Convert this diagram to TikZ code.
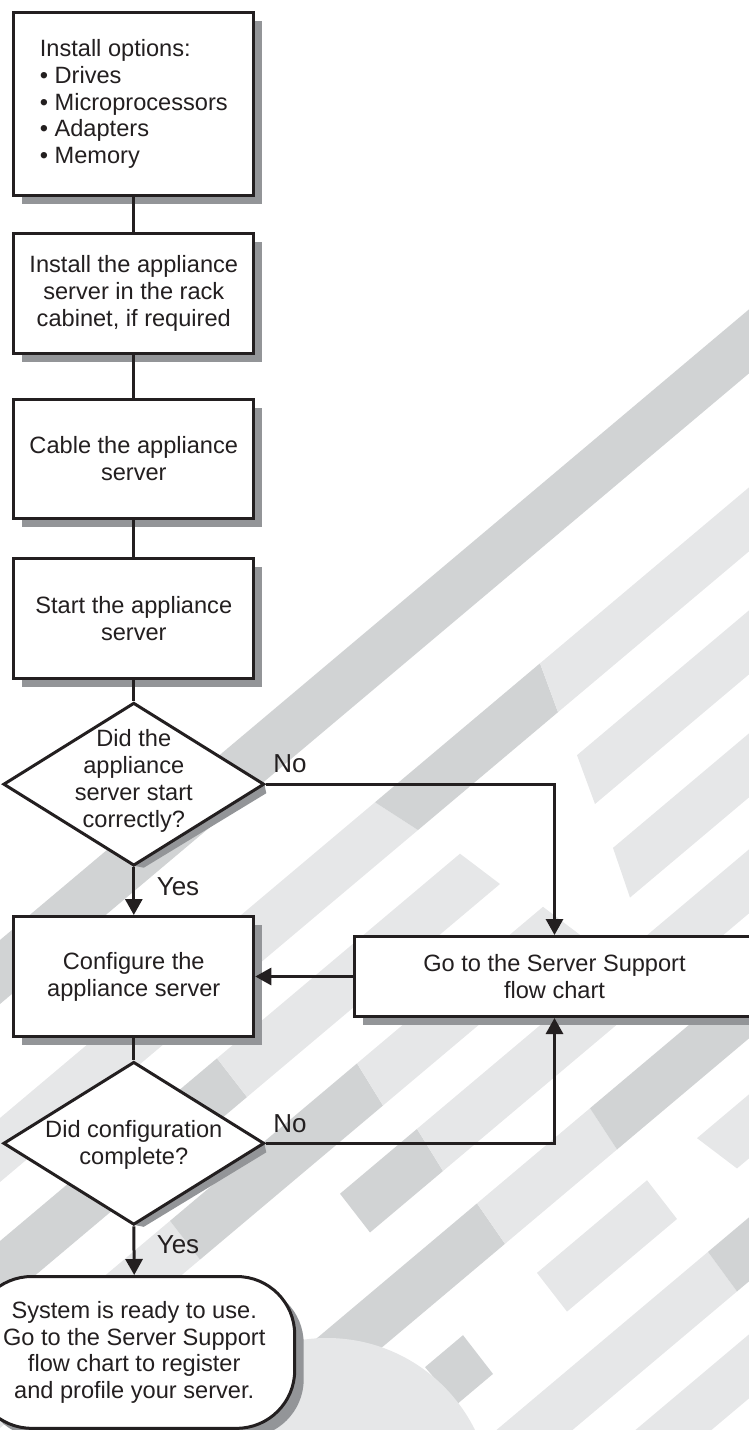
\documentclass[tikz,border=0pt]{standalone}
\usepackage{fontspec}
\setmainfont{Liberation Sans}
\usetikzlibrary{shapes.geometric,arrows.meta,shadows}
\definecolor{ink}{HTML}{231F20}
\definecolor{shd}{HTML}{939598}
\definecolor{dk}{HTML}{D1D3D4}
\definecolor{lt}{HTML}{E6E7E8}
\newcommand{\strp}[6]{\fill[#1] (#3,{#2-0.842*(#3)}) -- (#5,{#2-0.842*(#5)}) -- (#6,{#2+64-0.842*(#6)}) -- (#4,{#2+64-0.842*(#4)}) -- cycle;}
\begin{document}
\begin{tikzpicture}[x=1pt,y=-1pt,
  every node/.style={text=ink, font=\fontsize{23.6}{26.8}\selectfont},
  boxshadow/.style={drop shadow={shadow xshift=8.5pt, shadow yshift=-8.5pt, fill=shd, opacity=1}},
  box/.style={draw=ink, line width=3pt, fill=white, minimum width=240pt, align=center, inner sep=0pt, boxshadow},
  diam/.style={shape=diamond, draw=ink, line width=3pt, fill=white, minimum width=261pt, minimum height=163pt, inner sep=0pt},
  term/.style={draw=ink, line width=3pt, fill=white, rounded corners=58pt, align=center, inner sep=0pt,
     drop shadow={shadow xshift=9pt, shadow yshift=-9pt, fill=shd, opacity=1}},
  conn/.style={draw=ink, line width=3pt},
  arr/.style={conn, -{Triangle[width=17pt,length=16pt]}},
  lab/.style={font=\fontsize{26}{28}\selectfont, inner sep=0pt},
  dtext/.style={align=center, inner sep=0pt}
]
\useasboundingbox (0,0) rectangle (749,1430);
\clip (0,0) rectangle (749,1430);
% background stripes
\strp{dk}{940}{-80}{-80}{800}{800}
\strp{lt}{1118}{-80}{-80}{375}{418}
\strp{dk}{1118}{375}{418}{540}{558}
\strp{lt}{1118}{540}{558}{800}{800}
\strp{dk}{1241}{-80}{-80}{217}{247}
\strp{lt}{1241}{217}{247}{460}{500}
\strp{lt}{1241}{577}{595}{800}{800}
\strp{lt}{1364}{-80}{-80}{170}{200}
\strp{dk}{1364}{170}{200}{357}{383}
\strp{lt}{1364}{357}{383}{543}{583}
\strp{lt}{1364}{613}{630}{800}{800}
\strp{dk}{1480}{340}{370}{417}{443}
\strp{lt}{1480}{417}{443}{800}{800}
\strp{dk}{1605}{-80}{-80}{477}{505}
\strp{lt}{1605}{477}{505}{590}{617}
\strp{dk}{1605}{590}{617}{800}{800}
\strp{dk}{1725}{425}{457}{463}{493}
\strp{lt}{1725}{537}{567}{647}{677}
\strp{lt}{1725}{697}{737}{800}{800}
\strp{lt}{1848}{300}{300}{708}{737}
\strp{dk}{1848}{708}{737}{800}{800}
\strp{lt}{1965}{500}{500}{800}{800}
\fill[lt] (327,1503) circle (165);

% boxes
\node[box, minimum height=182.5pt, align=left] (b1) at (133.8,103.9)
  {Install options:\\• Drives\\• Microprocessors\\• Adapters\\• Memory};
\node[box, minimum height=120pt] (b2) at (133.8,293.5)
  {Install the appliance\\server in the rack\\cabinet, if required};
\node[box, minimum height=119pt] (b3) at (133.8,458.7)
  {Cable the appliance\\server};
\node[box, minimum height=120pt] (b4) at (133.8,618.3)
  {Start the appliance\\server};

\fill[shd] (264.3,784.2) -- (266.3,793.2) -- (143.8,867.7) -- (133.8,865.7) -- cycle;
\node[diam] (d1) at (133.8,784.2) {};
\node[dtext] (t1) at (133.8,781) {Did the\\appliance\\server start\\correctly?};

\node[box, minimum height=120pt] (b5) at (133.8,976.5)
  {Configure the\\appliance server};
\node[box, minimum width=400.6pt, minimum height=80pt] (rb) at (554.5,976.5)
  {Go to the Server Support\\flow chart};

\fill[shd] (264.3,1143.3) -- (266.3,1152.3) -- (143.8,1226.8) -- (133.8,1224.8) -- cycle;
\node[diam] (d2) at (133.8,1143.3) {};
\node[dtext] (t2) at (133.8,1145) {Did configuration\\complete?};

\node[term, minimum width=321pt, minimum height=151.8pt] (rr) at (134.2,1352.4)
  {System is ready to use.\\Go to the Server Support\\flow chart to register\\and profile your server.};

% connectors
\draw[conn] (b1.south) -- (b2.north);
\draw[conn] (b2.south) -- (b3.north);
\draw[conn] (b3.south) -- (b4.north);
\draw[conn] (b4.south) -- (d1.north);
\draw[arr] (d1.south) -- (b5.north);
\draw[arr] (d1.east) -- (rb.north |- d1.east) -- (rb.north);
\draw[arr] (rb.west) -- (b5.east);
\draw[conn] (b5.south) -- (d2.north);
\draw[arr] (d2.east) -- (rb.south |- d2.east) -- (rb.south);
\draw[arr] (d2.south) -- (rr.north);

% labels
\node[lab] (no1) at (290,764) {No};
\node[lab] (yes1) at (178,887) {Yes};
\node[lab] (no2) at (290,1124) {No};
\node[lab] (yes2) at (178,1245) {Yes};
\end{tikzpicture}
\end{document}
